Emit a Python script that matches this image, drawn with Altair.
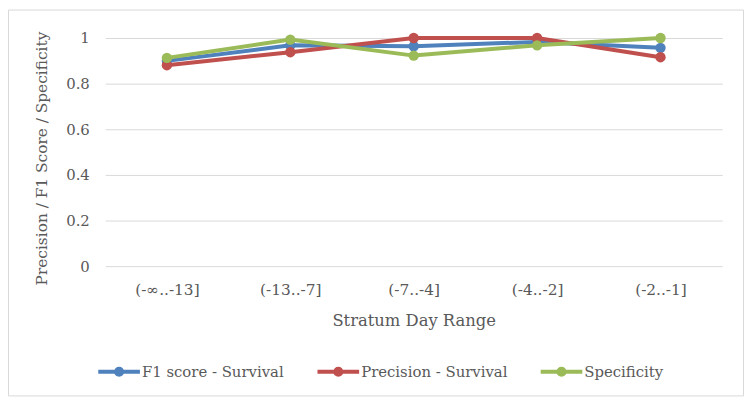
import altair as alt
import pandas as pd

categories = ["(-∞..-13]", "(-13..-7]", "(-7..-4]", "(-4..-2]", "(-2..-1]"]
series_names = ["F1 score - Survival", "Precision - Survival", "Specificity"]
f1_survival = [0.900, 0.968, 0.964, 0.983, 0.957]
precision_survival = [0.881, 0.938, 1.000, 1.000, 0.916]
specificity = [0.913, 0.993, 0.923, 0.968, 1.000]
colors = ["#4F81BD", "#C0504D", "#9BBB59"]

rows = []
for name, vals in zip(series_names, [f1_survival, precision_survival, specificity]):
    for c, v in zip(categories, vals):
        rows.append({"range": c, "series": name, "value": v})
df = pd.DataFrame(rows)

FONT = "DejaVu Serif"
TXT = "#595959"
GRID = "#D9D9D9"
W, H = 622, 230

x = alt.X("range:N", sort=categories, title="Stratum Day Range",
          scale=alt.Scale(type="point", padding=0.5),
          axis=alt.Axis(labelAngle=0, domain=False, ticks=False, grid=False,
                        labelPadding=17, titlePadding=14,
                        labelFontSize=15.5, titleFontSize=16.5, titleFontWeight="normal"))
y = alt.Y("value:Q", title="Precision / F1 Score / Specificity",
          scale=alt.Scale(domain=[0, 1], nice=False),
          axis=alt.Axis(values=[0, 0.2, 0.4, 0.6, 0.8, 1.0], format=".1~f",
                        domain=False, ticks=False, gridColor=GRID, gridWidth=1,
                        labelPadding=16, labelFontSize=15, titleFontSize=15.5,
                        titleFontWeight="normal", titleX=-64, titleY=121,
                        titleBaseline="middle"))
color = alt.Color("series:N", sort=series_names,
                  scale=alt.Scale(domain=series_names, range=colors),
                  legend=alt.Legend(title=None, orient="none", direction="horizontal",
                                    legendX=-9, legendY=313,
                                    symbolType="M-1,0H1M0.15,0A0.15,0.15,0,1,1,-0.15,0A0.15,0.15,0,1,1,0.15,0Z",
                                    symbolSize=1764, symbolStrokeWidth=4,
                                    labelFontSize=15, labelOffset=0, columnPadding=25,
                                    labelColor=TXT, labelFont=FONT))

base = alt.Chart(df).encode(x=x, y=y, color=color)
lines = base.mark_line(strokeWidth=4)
points = base.mark_circle(size=110, opacity=1)

frame = alt.Chart(pd.DataFrame({"a": [0]})).mark_rect(
    fill="transparent", stroke=GRID, strokeWidth=1
).encode(x=alt.value(-97.5), x2=alt.value(643.5), y=alt.value(-28.2), y2=alt.value(360.8))

chart = alt.layer(lines, points, frame).properties(
    width=W, height=H,
    autosize=alt.AutoSizeParams(type="none"),
    padding={"left": 98, "top": 28.7, "right": 24, "bottom": 130},
).configure_view(stroke=None).configure_axis(
    labelColor=TXT, titleColor=TXT, labelFont=FONT, titleFont=FONT
).configure_legend(labelFont=FONT, labelColor=TXT)

chart.save("out.html", embed_options={"renderer": "svg", "actions": False})
